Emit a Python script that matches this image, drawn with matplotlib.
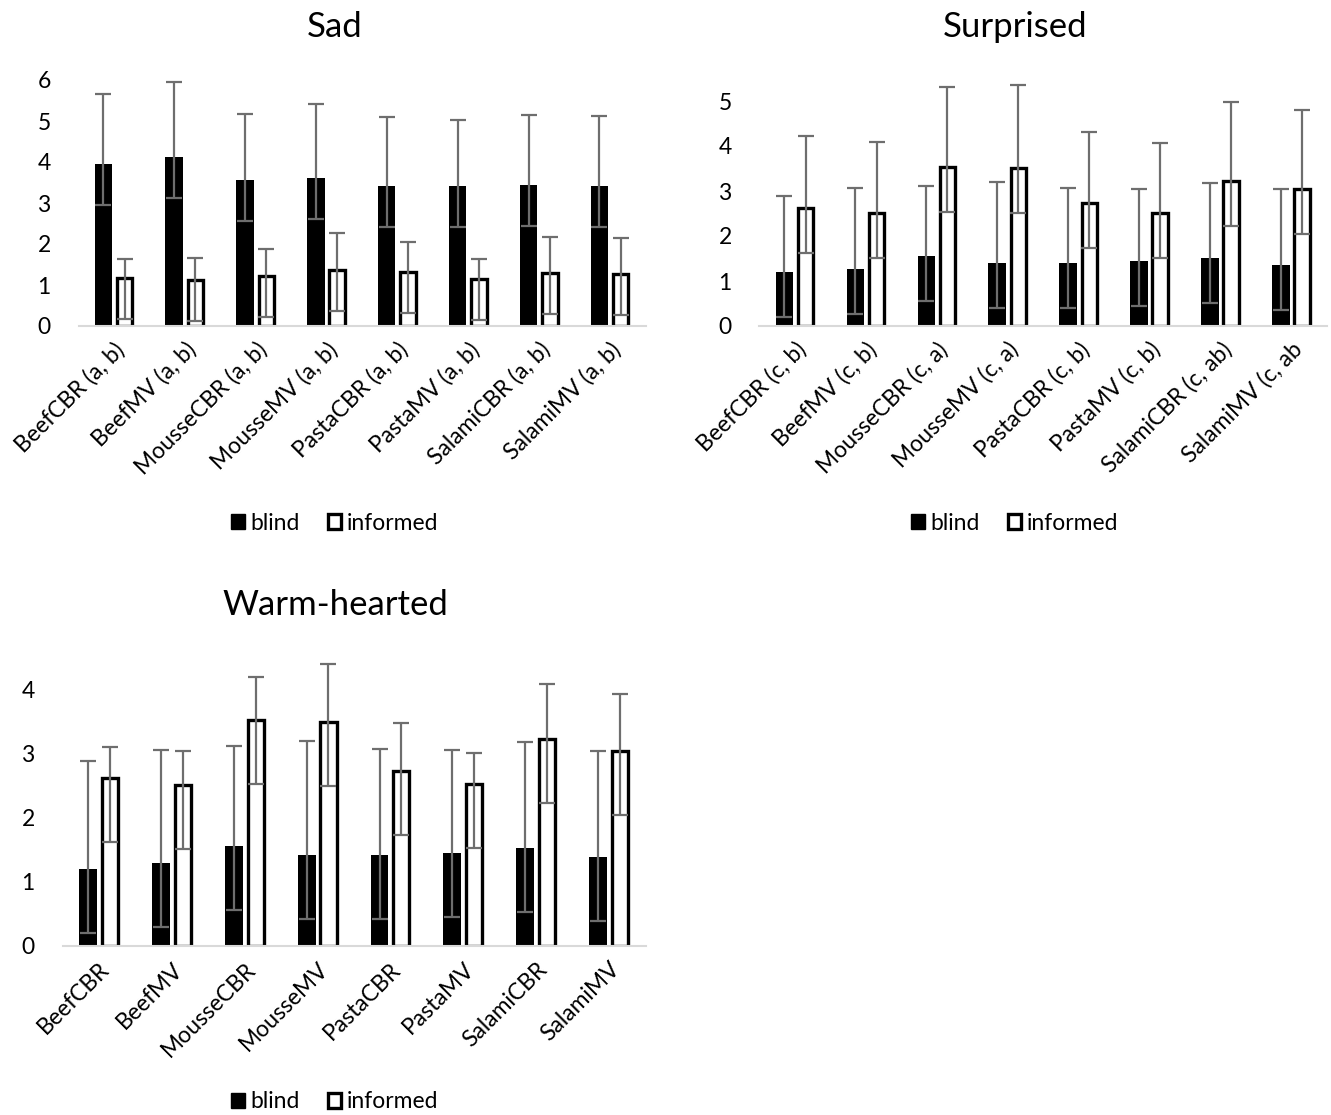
import numpy as np
import matplotlib.pyplot as plt
from matplotlib.patches import Patch

plt.rcParams['font.family'] = ['Lato', 'DejaVu Sans']

names = ["BeefCBR", "BeefMV", "MousseCBR", "MousseMV",
         "PastaCBR", "PastaMV", "SalamiCBR", "SalamiMV"]
sad_labels = [n + " (a, b)" for n in names]
surp_labels = ["BeefCBR (c, b)", "BeefMV (c, b)", "MousseCBR (c, a)", "MousseMV (c, a)",
               "PastaCBR (c, b)", "PastaMV (c, b)", "SalamiCBR (c, ab)", "SalamiMV (c, ab"]
warm_labels = names

# means
sad_blind = [3.95, 4.13, 3.56, 3.60, 3.41, 3.41, 3.45, 3.41]
sad_inf = [1.17, 1.13, 1.21, 1.37, 1.32, 1.15, 1.30, 1.27]
surp_blind = [1.20, 1.27, 1.56, 1.41, 1.41, 1.44, 1.52, 1.36]
surp_inf = [2.62, 2.51, 3.53, 3.51, 2.73, 2.52, 3.23, 3.04]
warm_blind = [1.21, 1.29, 1.57, 1.42, 1.42, 1.46, 1.53, 1.39]
warm_inf = [2.63, 2.52, 3.53, 3.50, 2.73, 2.53, 3.23, 3.04]

# upper ends of the error bars
sad_blind_top = [5.65, 5.96, 5.16, 5.42, 5.10, 5.03, 5.15, 5.12]
sad_inf_top = [1.63, 1.65, 1.88, 2.26, 2.06, 1.64, 2.17, 2.15]
surp_blind_top = [2.89, 3.07, 3.12, 3.19, 3.07, 3.05, 3.18, 3.04]
surp_inf_top = [4.22, 4.10, 5.31, 5.36, 4.32, 4.07, 4.97, 4.79]
warm_blind_top = [2.89, 3.07, 3.125, 3.20, 3.08, 3.06, 3.19, 3.05]
warm_inf_top = [3.11, 3.04, 4.21, 4.40, 3.48, 3.02, 4.10, 3.93]
lower_err = 1.0

W, H = 1331, 1115
fig = plt.figure(figsize=(W / 100, H / 100), dpi=100)


def px_axes(l, t, r, b):
    return fig.add_axes([l / W, 1 - b / H, (r - l) / W, (b - t) / H])


def panel(ax, blind, inf, btop, itop, labels, ymax, title, tx, ty, ly):
    x = np.arange(len(labels))
    off = 0.15
    ax.bar(x - off, blind, width=0.245, color='black', zorder=2)
    ax.bar(x + off, inf, width=0.22, color='white', edgecolor='black',
           linewidth=2.4, zorder=2)
    for xs, m, top in [(x - off, blind, btop), (x + off, inf, itop)]:
        m = np.array(m)
        up = np.array(top) - m
        lo = np.full_like(m, lower_err)
        ax.errorbar(xs, m, yerr=[lo, up], fmt='none', ecolor='#6e6e6e',
                    elinewidth=1.6, capsize=5.5, capthick=1.6, zorder=3)
    ax.set_xlim(-0.5, len(labels) - 0.5)
    ax.set_ylim(0, ymax)
    ax.set_yticks(range(int(ymax) + 1))
    ax.set_xticks(x)
    ax.set_xticklabels(labels, rotation=45, ha='right', rotation_mode='anchor',
                       fontsize=16.5)
    ax.tick_params(axis='y', length=0, labelsize=16.5, pad=20)
    ax.tick_params(axis='x', length=0, pad=9)
    for s in ['top', 'right', 'left']:
        ax.spines[s].set_visible(False)
    ax.spines['bottom'].set_color('#d9d9d9')
    ax.spines['bottom'].set_linewidth(1.5)
    fig.text(tx / W, 1 - ty / H, title, ha='center', va='center', fontsize=25)
    handles = [Patch(facecolor='black', edgecolor='black', label='blind'),
               Patch(facecolor='white', edgecolor='black', linewidth=2.4, label='informed')]
    fig.legend(handles=handles, loc='center', bbox_to_anchor=(tx / W, 1 - ly / H),
               ncol=2, frameon=False, fontsize=16.5, handlelength=0.6,
               handleheight=0.6, handletextpad=0.25, columnspacing=1.2)


ax1 = px_axes(78.5, 80, 645.5, 326)
panel(ax1, sad_blind, sad_inf, sad_blind_top, sad_inf_top, sad_labels, 6,
      "Sad", 335, 27, 523)

ax2 = px_axes(759.5, 78.5, 1327, 326)
panel(ax2, surp_blind, surp_inf, surp_blind_top, surp_inf_top, surp_labels, 5.5,
      "Surprised", 1015, 27, 523)

ax3 = px_axes(62.5, 658, 645.5, 946)
panel(ax3, warm_blind, warm_inf, warm_blind_top, warm_inf_top, warm_labels, 4.5,
      "Warm-hearted", 335, 605, 1102)

fig.savefig("out.png", dpi=100)
